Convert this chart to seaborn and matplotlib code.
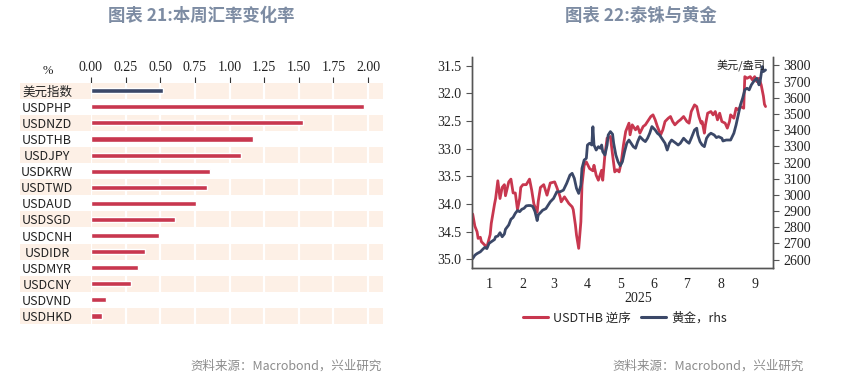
import pandas as pd
import numpy as np
import matplotlib
matplotlib.use("Agg")
import matplotlib.pyplot as plt
import matplotlib.dates as mdates
from matplotlib.ticker import FuncFormatter
from matplotlib.lines import Line2D
import seaborn as sns

sns.set_style("white")
plt.rcParams['font.family'] = ['Noto Sans CJK SC', 'DejaVu Sans']
plt.rcParams['axes.unicode_minus'] = False

# ---- left chart data: weekly FX change (%)
names = ["美元指数", "USDPHP", "USDNZD", "USDTHB", "USDJPY", "USDKRW", "USDTWD", "USDAUD",
         "USDSGD", "USDCNH", "USDIDR", "USDMYR", "USDCNY", "USDVND", "USDHKD"]
chg = [0.52, 1.97, 1.53, 1.17, 1.08, 0.86, 0.84, 0.76, 0.61, 0.49, 0.39, 0.34, 0.29, 0.11, 0.08]
groups = ["dxy"] + ["fx"] * 14
xticks_l = [0.00, 0.25, 0.50, 0.75, 1.00, 1.25, 1.50, 1.75, 2.00]

# ---- right chart data: USDTHB (inverted) and gold, 2025, day offsets from Jan 1
thb_day = [0, 2, 4, 5, 7, 8, 10, 13, 14, 16, 17, 20, 21, 23, 25, 27, 29, 30, 33, 35, 37, 39, 41,
           43, 44, 46, 49, 52, 54, 56, 59, 60, 62, 65, 68, 71, 75, 77, 80, 81, 84, 88, 91, 92, 94,
           95, 97, 99, 100, 102, 104, 107, 110, 111, 113, 115, 118, 119, 121, 123, 126, 128, 130,
           132, 134, 136, 138, 140, 143, 144, 146, 149, 151, 153, 156, 158, 160, 163, 165, 167,
           169, 172, 174, 176, 179, 181, 183, 185, 188, 190, 193, 196, 198, 200, 203, 205, 207,
           209, 210, 212, 213, 215, 218, 220, 222, 224, 226, 228, 231, 233, 235, 236, 239, 241,
           243, 245, 248, 249, 251, 254, 256, 258, 260, 262, 264, 266, 267, 268]
thb = [34.18, 34.40, 34.50, 34.62, 34.60, 34.68, 34.72, 34.78, 34.70, 34.55, 34.35, 34.00, 33.90,
       33.58, 33.90, 33.70, 33.65, 33.85, 33.60, 33.55, 33.80, 33.80, 34.10, 33.90, 33.70, 33.65,
       33.65, 33.55, 33.75, 34.00, 34.15, 33.95, 33.70, 33.65, 33.84, 33.62, 33.60, 33.70, 33.87,
       33.96, 33.87, 33.99, 34.05, 34.10, 34.38, 34.56, 34.80, 34.32, 33.66, 33.30, 33.24, 33.36,
       33.40, 33.30, 33.48, 33.57, 33.39, 33.57, 33.11, 32.81, 32.78, 33.11, 33.42, 33.38, 33.42,
       33.24, 32.93, 32.69, 32.54, 32.75, 32.57, 32.66, 32.60, 32.72, 32.60, 32.57, 32.51, 32.42,
       32.39, 32.48, 32.60, 32.75, 32.66, 32.51, 32.45, 32.42, 32.51, 32.57, 32.51, 32.48, 32.42,
       32.51, 32.54, 32.33, 32.21, 32.24, 32.42, 32.54, 32.51, 32.72, 32.57, 32.36, 32.33, 32.39,
       32.33, 32.48, 32.36, 32.51, 32.54, 32.63, 32.51, 32.39, 32.45, 32.27, 32.30, 32.24, 32.27,
       31.70, 31.73, 31.70, 31.76, 31.70, 31.79, 31.73, 31.85, 32.05, 32.20, 32.24]
gold_day = [0, 2, 4, 7, 9, 11, 13, 15, 17, 20, 21, 23, 25, 27, 29, 30, 33, 35, 37, 39, 41, 43, 45,
            47, 49, 51, 53, 55, 57, 59, 60, 62, 64, 67, 71, 74, 77, 80, 83, 86, 89, 91, 93, 95, 97,
            99, 100, 102, 104, 105, 107, 109, 110, 111, 113, 115, 117, 118, 119, 121, 123, 124,
            126, 128, 129, 131, 133, 135, 137, 139, 141, 143, 145, 147, 149, 151, 153, 156, 158,
            160, 162, 164, 167, 169, 171, 173, 176, 178, 180, 182, 184, 186, 188, 190, 192, 193,
            196, 198, 200, 203, 205, 206, 208, 210, 212, 214, 216, 218, 221, 223, 225, 228, 229,
            232, 234, 236, 239, 241, 243, 245, 247, 249, 251, 253, 255, 257, 260, 262, 263, 265,
            266, 268]
gold = [2606, 2627, 2637, 2648, 2662, 2675, 2668, 2700, 2710, 2724, 2741, 2745, 2766, 2741, 2758,
        2787, 2814, 2849, 2861, 2886, 2903, 2896, 2911, 2917, 2932, 2934, 2934, 2928, 2897, 2841,
        2876, 2890, 2905, 2915, 2957, 2978, 3019, 3019, 3029, 3071, 3122, 3133, 3102, 3040, 3009,
        3060, 3164, 3215, 3226, 3308, 3319, 3308, 3421, 3308, 3277, 3298, 3288, 3308, 3267, 3246,
        3308, 3370, 3391, 3375, 3319, 3246, 3205, 3180, 3205, 3267, 3319, 3339, 3319, 3298, 3288,
        3329, 3360, 3339, 3329, 3350, 3381, 3422, 3401, 3381, 3370, 3350, 3319, 3277, 3319, 3339,
        3329, 3319, 3308, 3319, 3339, 3350, 3329, 3319, 3350, 3401, 3412, 3370, 3329, 3308, 3298,
        3350, 3370, 3381, 3370, 3354, 3360, 3350, 3333, 3339, 3339, 3339, 3381, 3432, 3494, 3556,
        3597, 3649, 3659, 3649, 3680, 3700, 3721, 3680, 3700, 3793, 3762, 3772]

RED = "#c8374f"
NAVY = "#3b4868"
BAND = "#fdf0e6"
TITLE_C = "#7d8ca3"
SERIF = ["Liberation Serif", "DejaVu Serif"]
LABEL_F = ["Noto Sans CJK SC", "DejaVu Sans"]

W, H = 853, 379
fig = plt.figure(figsize=(W / 100, H / 100), dpi=100)


def fx(px):
    return px / W


def fy(py):
    return 1 - py / H


# ================= left chart =================
ax1 = fig.add_axes([fx(91), fy(324), fx(383 - 91), (324 - 82.7) / H])
df = pd.DataFrame({"name": names, "v": chg, "g": groups})
sns.barplot(data=df, x="v", y="name", hue="g", palette={"dxy": NAVY, "fx": RED},
            dodge=False, width=0.32, legend=False, ax=ax1, saturation=1)
for p in ax1.patches:
    p.set_zorder(3)
ax1.set_xlim(0, 2.108)
ax1.set_ylim(14.5, -0.5)
left_ext = -(91 - 20) / (383 - 91)
for i in range(len(names)):
    if i % 2 == 0:
        ax1.axhspan(i - 0.5, i + 0.5, xmin=left_ext, xmax=1, color=BAND, zorder=0,
                    clip_on=False, lw=0)
ax1.vlines(xticks_l, -0.5, 14.5, color="white", lw=1.6, zorder=1)
for s in ax1.spines.values():
    s.set_visible(False)
ax1.xaxis.tick_top()
ax1.set_xticks(xticks_l)
ax1.set_xticklabels([f"{t:.2f}" for t in xticks_l], family=SERIF, fontsize=10)
ax1.tick_params(axis="x", top=True, length=4, width=0.8, color="#333", pad=2, labelcolor="#222")
# labels centred at about x=47px (44px left of the axes)
ax1.tick_params(axis="y", length=0, pad=44 * 0.72, labelsize=9, labelcolor="#222")
for lab in ax1.get_yticklabels():
    lab.set_family(LABEL_F)
    lab.set_horizontalalignment("center")
ax1.set_xlabel("")
ax1.set_ylabel("")
fig.text(fx(48), fy(71), "%", ha="center", va="center", fontsize=9, family=SERIF, color="#222")

# ================= right chart =================
ax2 = fig.add_axes([fx(471.7), fy(268.3), fx(773 - 471.7), (268.3 - 56.7) / H])
start = pd.Timestamp("2025-01-01")
d_thb = pd.DataFrame({"date": start + pd.to_timedelta(thb_day, unit="D"), "v": thb})
d_gold = pd.DataFrame({"date": start + pd.to_timedelta(gold_day, unit="D"), "v": gold})
sns.lineplot(data=d_thb, x="date", y="v", color=RED, lw=2.0, ax=ax2)
ax2.set_ylim(35.16, 31.34)
ax2.set_yticks(np.arange(31.5, 35.01, 0.5))
ax2.yaxis.set_major_formatter(FuncFormatter(lambda v, p: f"{v:.1f}"))
ax2r = ax2.twinx()
sns.lineplot(data=d_gold, x="date", y="v", color=NAVY, lw=2.0, ax=ax2r)
ax2r.set_ylim(2546, 3854)
ax2r.set_yticks(np.arange(2600, 3801, 100))

x0 = mdates.date2num(pd.Timestamp("2025-01-01")) - 0.9
x1 = mdates.date2num(pd.Timestamp("2025-10-01")) + 1.8
ax2.set_xlim(x0, x1)
ax2.xaxis.set_major_locator(mdates.MonthLocator())
ax2.xaxis.set_major_formatter(FuncFormatter(lambda v, p: ""))
ax2.xaxis.set_minor_locator(mdates.MonthLocator(bymonthday=16))
ax2.xaxis.set_minor_formatter(FuncFormatter(lambda v, p: str(mdates.num2date(v).month)))
ax2.tick_params(axis="x", which="major", length=5, width=0.8, color="#555", direction="out")
ax2.tick_params(axis="x", which="minor", length=0, pad=7, labelsize=10, labelcolor="#222")
for lab in ax2.get_xticklabels(minor=True):
    lab.set_family(SERIF)
ax2.tick_params(axis="y", length=4, width=0.8, color="#555", labelsize=10, labelcolor="#222",
                left=True, direction="out")
ax2r.tick_params(axis="y", length=4, width=0.8, color="#555", labelsize=10, labelcolor="#222",
                 right=True, direction="out")
for lab in ax2.get_yticklabels() + ax2r.get_yticklabels():
    lab.set_family(SERIF)
for a in (ax2, ax2r):
    a.set_xlabel("")
    a.set_ylabel("")
    a.spines["top"].set_visible(False)
    for k in ("left", "right", "bottom"):
        a.spines[k].set_color("#555")
        a.spines[k].set_linewidth(1.0)

fig.text(fx(638), fy(299), "2025", ha="center", va="center", fontsize=10, family=SERIF, color="#222")
fig.text(fx(765), fy(65), "美元/盎司", ha="right", va="center", fontsize=8, color="#222")

handles = [Line2D([], [], color=RED, lw=2.2), Line2D([], [], color=NAVY, lw=2.2)]
fig.legend(handles, ["USDTHB 逆序", "黄金，rhs"], loc="center", ncol=2,
           bbox_to_anchor=(fx(625), fy(318)), frameon=False, fontsize=9,
           handlelength=2.0, handletextpad=0.4, columnspacing=0.8)

# ================= titles & sources =================
fig.text(fx(201), fy(16), "图表 21:本周汇率变化率", ha="center", va="center", fontsize=12.5,
         weight="bold", color=TITLE_C)
fig.text(fx(641), fy(16), "图表 22:泰铢与黄金", ha="center", va="center", fontsize=12.5,
         weight="bold", color=TITLE_C)
fig.text(fx(190), fy(366), "资料来源：Macrobond，兴业研究", ha="left", va="center", fontsize=9,
         color="#8c8c8c")
fig.text(fx(612), fy(366), "资料来源：Macrobond，兴业研究", ha="left", va="center", fontsize=9,
         color="#8c8c8c")

fig.savefig("out.png", dpi=100, facecolor="white")
